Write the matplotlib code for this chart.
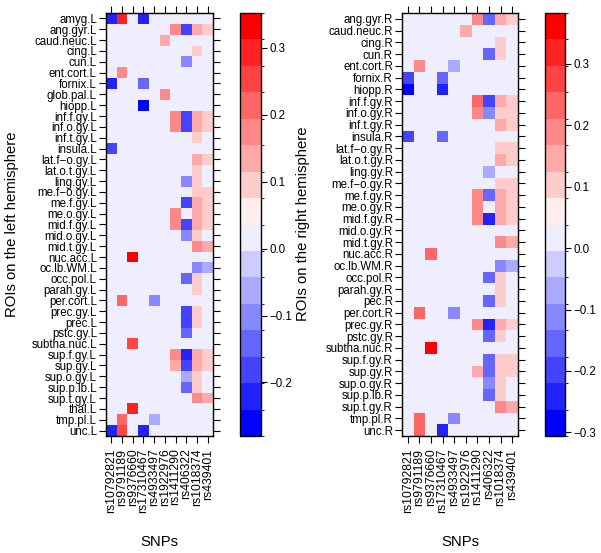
import numpy as np
import matplotlib
matplotlib.use("Agg")
import matplotlib.pyplot as plt
from matplotlib.colors import LinearSegmentedColormap, ListedColormap, BoundaryNorm

plt.rcParams["font.family"] = ["Liberation Sans", "DejaVu Sans"]

snps = ["rs10792821", "rs9791189", "rs9376660", "rs17310467", "rs4933497",
        "rs1922976", "rs1411290", "rs406322", "rs1018374", "rs439401"]

rois_left = ["amyg.L", "ang.gyr.L", "caud.neuc.L", "cing.L", "cun.L", "ent.cort.L",
             "fornix.L", "glob.pal.L", "hiopp.L", "inf.f.gy.L", "inf.o.gy.L",
             "inf.t.gy.L", "insula.L", "lat.f\u2212o.gy.L", "lat.o.t.gy.L", "ling.gy.L",
             "me.f\u2212o.gy.L", "me.f.gy.L", "me.o.gy.L", "mid.f.gy.L", "mid.o.gy.L",
             "mid.t.gy.L", "nuc.acc.L", "oc.lb.WM.L", "occ.pol.L", "parah.gy.L",
             "per.cort.L", "prec.gy.L", "prec.L", "pstc.gy.L", "subtha.nuc.L",
             "sup.f.gy.L", "sup.gy.L", "sup.o.gy.L", "sup.p.lb.L", "sup.t.gy.L",
             "thal.L", "tmp.pl.L", "unc.L"]

rois_right = ["ang.gyr.R", "caud.neuc.R", "cing.R", "cun.R", "ent.cort.R", "fornix.R",
              "hiopp.R", "inf.f.gy.R", "inf.o.gy.R", "inf.t.gy.R", "insula.R",
              "lat.f\u2212o.gy.R", "lat.o.t.gy.R", "ling.gy.R", "me.f\u2212o.gy.R",
              "me.f.gy.R", "me.o.gy.R", "mid.f.gy.R", "mid.o.gy.R", "mid.t.gy.R",
              "nuc.acc.R", "oc.lb.WM.R", "occ.pol.R", "parah.gy.R", "pec.R",
              "per.cort.R", "prec.gy.R", "pstc.gy.R", "subtha.nuc.R", "sup.f.gy.R",
              "sup.gy.R", "sup.o.gy.R", "sup.p.lb.R", "sup.t.gy.R", "tmp.pl.R", "unc.R"]

left_vals = [
    [-0.23, 0.29, 0, -0.23, 0, 0, 0, 0, 0, 0],
    [0, 0, 0, 0, 0, 0, 0.17, -0.19, 0.13, 0.09],
    [0, 0, 0, 0, 0, 0.13, 0, 0, 0, 0],
    [0, 0, 0, 0, 0, 0, 0, 0, 0.09, 0],
    [0, 0, 0, 0, 0, 0, 0, -0.11, 0, 0],
    [0, 0.17, 0, 0, 0, 0, 0, 0, 0, 0],
    [-0.23, 0, 0, -0.15, 0, 0, 0, 0, 0, 0],
    [0, 0, 0, 0, 0, 0.17, 0, 0, 0, 0],
    [0, 0, 0, -0.28, 0, 0, 0, 0, 0, 0],
    [0, 0, 0, 0, 0, 0, 0.17, -0.19, 0.13, 0.09],
    [0, 0, 0, 0, 0, 0, 0.17, -0.19, 0.13, 0.09],
    [0, 0, 0, 0, 0, 0, 0, 0, 0.09, 0],
    [-0.19, 0, 0, 0, 0, 0, 0, 0, 0, 0],
    [0, 0, 0, 0, 0, 0, 0, 0, 0.13, 0.09],
    [0, 0, 0, 0, 0, 0, 0, 0, 0.09, 0],
    [0, 0, 0, 0, 0, 0, 0, -0.11, 0.09, 0],
    [0, 0, 0, 0, 0, 0, 0, 0, 0.09, 0.09],
    [0, 0, 0, 0, 0, 0, 0, -0.19, 0.13, 0.09],
    [0, 0, 0, 0, 0, 0, 0.17, 0, 0.13, 0.09],
    [0, 0, 0, 0, 0, 0, 0.17, -0.19, 0.13, 0.09],
    [0, 0, 0, 0, 0, 0, 0, -0.11, 0.09, 0],
    [0, 0, 0, 0, 0, 0, 0, 0, 0.17, 0.13],
    [0, 0, 0.352, 0, 0, 0, 0, 0, 0, 0],
    [0, 0, 0, 0, 0, 0, 0, 0, -0.11, -0.07],
    [0, 0, 0, 0, 0, 0, 0, -0.15, 0.09, 0],
    [0, 0, 0, 0, 0, 0, 0, 0, 0.09, 0],
    [0, 0.21, 0, 0, -0.11, 0, 0, 0, 0, 0],
    [0, 0, 0, 0, 0, 0, 0, -0.19, 0.09, 0],
    [0, 0, 0, 0, 0, 0, 0, -0.19, 0.09, 0],
    [0, 0, 0, 0, 0, 0, 0, -0.15, 0, 0],
    [0, 0, 0.25, 0, 0, 0, 0, 0, 0, 0],
    [0, 0, 0, 0, 0, 0, 0.17, -0.23, 0.13, 0.09],
    [0, 0, 0, 0, 0, 0, 0.13, -0.19, 0.13, 0.09],
    [0, 0, 0, 0, 0, 0, 0, -0.07, 0.09, 0],
    [0, 0, 0, 0, 0, 0, 0, -0.15, 0.09, 0],
    [0, 0, 0, 0, 0, 0, 0, 0, 0.17, 0.13],
    [0, 0, 0.29, 0, 0, 0, 0, 0, 0, 0],
    [0, 0.21, 0, 0, -0.07, 0, 0, 0, 0, 0],
    [-0.23, 0.25, 0, -0.23, 0, 0, 0, 0, 0, 0],
]

right_vals = [
    [0, 0, 0, 0, 0, 0, 0.19, -0.155, 0.145, 0.10],
    [0, 0, 0, 0, 0, 0.145, 0, 0, 0, 0],
    [0, 0, 0, 0, 0, 0, 0, 0, 0.10, 0],
    [0, 0, 0, 0, 0, 0, 0, -0.155, 0.10, 0],
    [0, 0.19, 0, 0, -0.07, 0, 0, 0, 0, 0],
    [-0.20, 0, 0, -0.155, 0, 0, 0, 0, 0, 0],
    [-0.306, 0, 0, -0.24, 0, 0, 0, 0, 0, 0],
    [0, 0, 0, 0, 0, 0, 0.23, -0.20, 0.145, 0.10],
    [0, 0, 0, 0, 0, 0, 0.19, -0.11, 0.10, 0.10],
    [0, 0, 0, 0, 0, 0, 0, 0, 0.145, 0.10],
    [-0.20, 0, 0, -0.155, 0, 0, 0, 0, 0, 0],
    [0, 0, 0, 0, 0, 0, 0, 0, 0.10, 0.10],
    [0, 0, 0, 0, 0, 0, 0, 0, 0.145, 0.10],
    [0, 0, 0, 0, 0, 0, 0, -0.07, 0, 0],
    [0, 0, 0, 0, 0, 0, 0, 0, 0.10, 0.10],
    [0, 0, 0, 0, 0, 0, 0.19, -0.155, 0.145, 0.10],
    [0, 0, 0, 0, 0, 0, 0.19, 0, 0.145, 0.10],
    [0, 0, 0, 0, 0, 0, 0.19, -0.24, 0.145, 0.10],
    [0, 0, 0, 0, 0, 0, 0, 0, 0, 0],
    [0, 0, 0, 0, 0, 0, 0, 0, 0.19, 0.145],
    [0, 0, 0.23, 0, 0, 0, 0, 0, 0, 0],
    [0, 0, 0, 0, 0, 0, 0, 0, -0.11, -0.07],
    [0, 0, 0, 0, 0, 0, 0, -0.155, 0.10, 0],
    [0, 0, 0, 0, 0, 0, 0, 0, 0.10, 0],
    [0, 0, 0, 0, 0, 0, 0, -0.155, 0.10, 0],
    [0, 0.23, 0, 0, -0.11, 0, 0, 0, 0, 0],
    [0, 0, 0, 0, 0, 0, 0.19, -0.24, 0.145, 0.10],
    [0, 0, 0, 0, 0, 0, 0, -0.155, 0.10, 0],
    [0, 0, 0.383, 0, 0, 0, 0, 0, 0, 0],
    [0, 0, 0, 0, 0, 0, 0, -0.155, 0.10, 0.10],
    [0, 0, 0, 0, 0, 0, 0.145, -0.155, 0.10, 0.10],
    [0, 0, 0, 0, 0, 0, 0, -0.11, 0.10, 0],
    [0, 0, 0, 0, 0, 0, 0, -0.155, 0.10, 0],
    [0, 0, 0, 0, 0, 0, 0, 0, 0.19, 0.145],
    [0, 0.23, 0, 0, -0.11, 0, 0, 0, 0, 0],
    [0, 0.23, 0, -0.24, 0, 0, 0, 0, 0, 0],
]

W, H = 601, 553
fig = plt.figure(figsize=(W / 100, H / 100), dpi=100)


def box(x0, y0, x1, y1):
    return [x0 / W, 1 - y1 / H, (x1 - x0) / W, (y1 - y0) / H]


ramp = LinearSegmentedColormap.from_list("bwr", ["blue", "white", "red"])
colors = ramp(np.linspace(0, 1, 16))


def panel(vals, rois, hm, cb, ylabel, ylab_x):
    z = np.array(vals, dtype=float)
    # 16 equal bins over the data range, like lattice levelplot
    bounds = np.linspace(z.min(), z.max(), 17)
    cmap = ListedColormap(colors).with_extremes(over=colors[-1], under=colors[0])
    norm = BoundaryNorm(bounds, 16)

    ax = fig.add_axes(box(*hm))
    m = ax.pcolormesh(np.arange(len(snps) + 1), np.arange(len(rois) + 1), z,
                      cmap=cmap, norm=norm)
    ax.set_xlim(0, len(snps))
    ax.set_ylim(len(rois), 0)
    ax.set_xticks(np.arange(len(snps)) + 0.5)
    ax.set_xticklabels(snps, rotation=90, fontsize=8.8)
    ax.set_yticks(np.arange(len(rois)) + 0.5)
    ax.set_yticklabels(rois, fontsize=8.3)
    ax.tick_params(direction="out", length=5, width=0.8, top=True, right=True,
                   labeltop=False, labelright=False)
    ax.tick_params(axis="y", pad=1.5)
    ax.tick_params(axis="x", pad=4)
    for s in ax.spines.values():
        s.set_linewidth(1)

    cax = fig.add_axes(box(*cb))
    ticks = [t for t in np.round(np.arange(-0.3, 0.31, 0.1), 1)
             if bounds[0] <= t <= bounds[-1]]
    bar = fig.colorbar(m, cax=cax, ticks=ticks)
    bar.set_ticklabels([f"{t:.1f}".replace("-", "\u2212") for t in ticks])
    bar.ax.tick_params(labelsize=8.3, length=4, width=0.8, pad=2)
    bar.outline.set_linewidth(1)

    fig.text(ylab_x / W, 1 - 224 / H, ylabel, rotation=90, fontsize=10.7,
             ha="center", va="center")
    fig.text((hm[0] + hm[2]) / 2 / W, 1 - 542 / H, "SNPs", fontsize=10.7,
             ha="center", va="center")


panel(left_vals, rois_left, (106, 13, 213, 436), (240, 13, 261, 436),
      "ROIs on the left hemisphere", 12)
panel(right_vals, rois_right, (402, 13, 518, 436), (545, 13, 565, 436),
      "ROIs on the right hemisphere", 303)

fig.savefig("out.png", dpi=100)
